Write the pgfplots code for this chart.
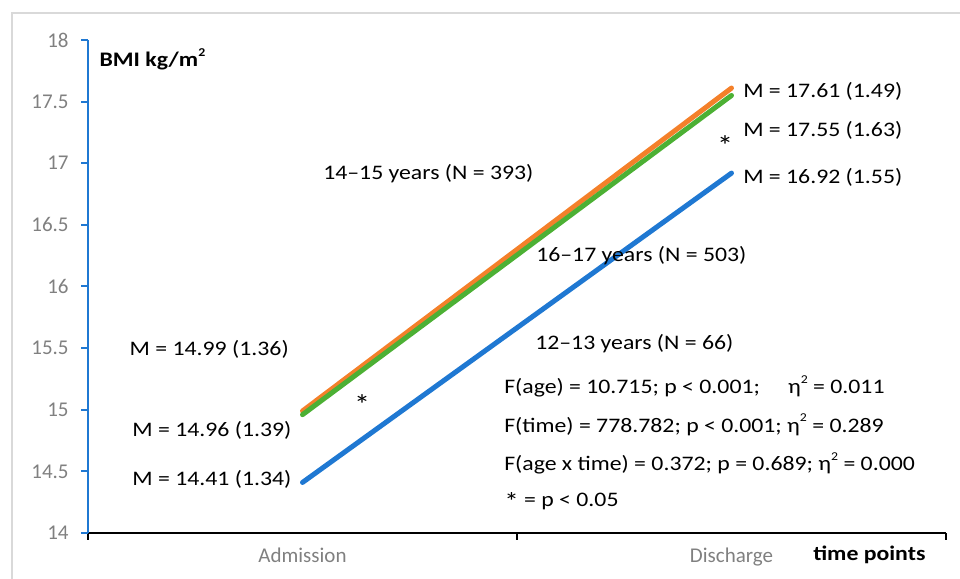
\documentclass[border=0pt]{standalone}
\usepackage{pgfplots}
\pgfplotsset{compat=1.18}
\usepackage{fontspec}
\setmainfont{Carlito}
\newfontfamily\annfont{Carlito}[FakeStretch=1.15]

\definecolor{axblue}{RGB}{31,120,210}
\definecolor{lnorange}{RGB}{244,128,42}
\definecolor{lngreen}{RGB}{76,176,52}
\definecolor{tickgray}{RGB}{128,128,128}
\definecolor{framegray}{RGB}{217,217,217}

% raised small 2 as in the original
\newcommand{\sq}{\raisebox{1.05ex}{\fontsize{9}{9}\selectfont 2}}
\newcommand{\st}{{\fontsize{21}{18}\selectfont *}}
\tikzset{ann/.style={inner sep=0pt, font=\annfont\fontsize{15.5}{18}\selectfont, text=black}}

\begin{document}
\begin{tikzpicture}
\begin{axis}[
  scale only axis, width=643.5pt, height=369.75pt,
  xmin=-0.5, xmax=1.5, ymin=14, ymax=18,
  clip=false,
  axis x line*=bottom, axis y line*=left,
  x axis line style={black, line width=1.1pt, -},
  y axis line style={axblue, line width=1.5pt, -},
  tick align=outside,
  major tick length=5pt,
  xtick={-0.5,0.5,1.5}, xticklabels={},
  x tick style={black, line width=0.8pt},
  extra x ticks={0,1}, extra x tick labels={Admission,Discharge},
  extra x tick style={major tick length=0pt},
  ytick={14,14.5,...,18},
  yticklabel={\fontsize{15.75}{18}\selectfont\pgfmathprintnumber[assume math mode=true]{\tick}},
  y tick style={axblue, line width=1.5pt},
  /pgf/number format/assume math mode=true,
  tick label style={font=\fontsize{15.75}{18}\selectfont, color=tickgray},
  yticklabel style={xshift=-6pt},
  xticklabel style={yshift=-8pt},
]
\addplot[axblue, line width=3.75pt, line cap=round] coordinates {(0,14.41) (1,16.92)};
\addplot[lnorange, line width=3.75pt, line cap=round] coordinates {(0,14.99) (1,17.61)};
\addplot[lngreen, line width=3.75pt, line cap=round] coordinates {(0,14.96) (1,17.55)};

\draw[framegray, line width=1.1pt] (axis cs:-0.677,13.5) -- (axis cs:-0.677,18.219) -- (axis cs:1.6,18.219);

\node[ann, anchor=base west, font=\annfont\bfseries\fontsize{15.5}{18}\selectfont] at (axis cs:-0.4737,17.781) {BMI kg/m\sq};
\node[ann, anchor=base west, font=\annfont\bfseries\fontsize{15.5}{18}\selectfont] at (axis cs:1.19,13.773) {time points};

\node[ann, anchor=base west] at (axis cs:0.0478,16.872) {14–15 years (N = 393)};
\node[ann, anchor=base west] at (axis cs:0.5443,16.203) {16–17 years (N = 503)};
\node[ann, anchor=base west] at (axis cs:0.542,15.485) {12–13 years (N = 66)};
\node[ann, anchor=base west] at (axis cs:0.4697,15.128) {F(age) = 10.715; p < 0.001;\hspace{1.1em} η\sq\ = 0.011};
\node[ann, anchor=base west] at (axis cs:0.4697,14.819) {F(time) = 778.782; p < 0.001; η\sq\ = 0.289};
\node[ann, anchor=base west] at (axis cs:0.4697,14.507) {F(age x time) = 0.372; p = 0.689; η\sq\ = 0.000};
\node[ann, anchor=base west] at (axis cs:0.4697,14.211) {\raisebox{-0.35ex}{\fontsize{19}{18}\selectfont *} = p < 0.05};

\node[ann, anchor=base east] at (axis cs:-0.0315,15.444) {M = 14.99 (1.36)};
\node[ann, anchor=base east] at (axis cs:-0.0252,14.779) {M = 14.96 (1.39)};
\node[ann, anchor=base east] at (axis cs:-0.0252,14.389) {M = 14.41 (1.34)};
\node[ann, anchor=base west] at (axis cs:1.0268,17.535) {M = 17.61 (1.49)};
\node[ann, anchor=base west] at (axis cs:1.0268,17.216) {M = 17.55 (1.63)};
\node[ann, anchor=base west] at (axis cs:1.0268,16.837) {M = 16.92 (1.55)};

\node[ann, anchor=center] at (axis cs:0.139,15.045) {\st};
\node[ann, anchor=center] at (axis cs:0.985,17.14) {\st};
\end{axis}
\pgfresetboundingbox
\path[use as bounding box] ([xshift=-66pt,yshift=-34.5pt]current axis.south west) rectangle ([xshift=10.5pt,yshift=30pt]current axis.north east);
\end{tikzpicture}
\end{document}
